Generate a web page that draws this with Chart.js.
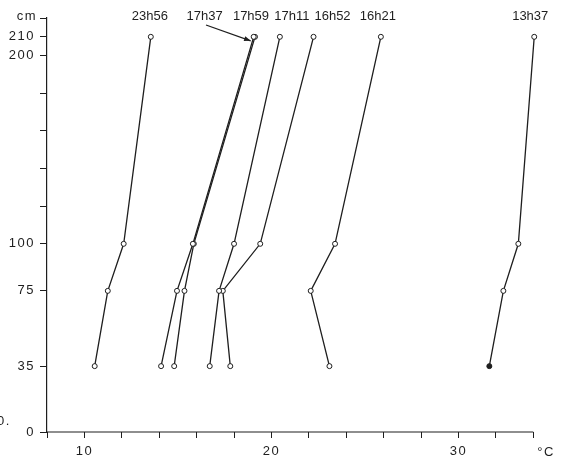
<!DOCTYPE html>
<html>
<head>
<meta charset="utf-8">
<script src="https://cdn.jsdelivr.net/npm/chart.js@4.4.1/dist/chart.umd.min.js"></script>
<style>
  body { margin: 0; background: #fff; }
  #wrap { width: 561px; height: 463px; }
</style>
</head>
<body>
<div id="wrap"><canvas id="profileChart"></canvas></div>
<script>
// measurement heights (cm), top to bottom, and the temperature profile for each time
const times = ['23h56', '17h37', '17h59', '17h11', '16h52', '16h21', '13h37'];
const heights = [210, 100, 75, 35];
const t2356 = [13.55, 12.1, 11.25, 10.55];
const t1737 = [19.05, 15.8, 14.95, 14.1];
const t1759 = [19.12, 15.85, 15.35, 14.8];
const t1711 = [20.45, 18.0, 17.2, 16.7];
const t1652 = [22.25, 19.4, 17.4, 17.8];
const t1621 = [25.85, 23.4, 22.1, 23.1];
const t1337 = [34.05, 33.2, 32.4, 31.65];

const xTicks = [8, 10, 12, 14, 16, 18, 20, 22, 24, 26, 28, 30, 32, 34];
const xLabels = [10, 20, 30];
const yTicks = [0, 35, 75, 100, 120, 140, 160, 180, 200, 210, 220];
const yLabels = [0, 35, 75, 100, 200, 210];

const profiles = [t2356, t1737, t1759, t1711, t1652, t1621, t1337];

// label offsets (px) from the top point of each profile
const labelShift = [-1, -49, -4, 12, 19, -3, -4];

const ink = '#1e1e1e';
const font = '"Liberation Sans", Arial, sans-serif';

const datasets = profiles.map((temps, i) => ({
    label: times[i],
    data: temps.map((t, j) => ({ x: t, y: heights[j] })),
    borderColor: ink,
    borderWidth: 1.3,
    pointRadius: 2.5,
    pointBorderWidth: 1,
    pointBorderColor: ink,
    pointBackgroundColor: (i === 6) ? ['#fff', '#fff', '#fff', ink] : '#fff',
    tension: 0,
    clip: false
}));

// wider lettering like the hand-stencilled original
const spacing = {
    id: 'spacing',
    beforeDraw(chart) {
        chart.ctx.letterSpacing = '1.5px';
    }
};

// x axis line stops at 34 °C
const axisLine = {
    id: 'axisLine',
    beforeDatasetsDraw(chart) {
        const ctx = chart.ctx;
        const xs = chart.scales.x;
        const y0 = chart.scales.y.getPixelForValue(0);
        ctx.save();
        ctx.strokeStyle = ink;
        ctx.lineWidth = 1.2;
        ctx.beginPath();
        ctx.moveTo(xs.getPixelForValue(xTicks[0]), y0);
        ctx.lineTo(xs.getPixelForValue(xTicks[xTicks.length - 1]), y0);
        ctx.stroke();
        ctx.restore();
    }
};

// text that sits outside the axes: time labels, the arrow, the units
const annotations = {
    id: 'annotations',
    afterDraw(chart) {
        const ctx = chart.ctx;
        const xs = chart.scales.x;
        const ys = chart.scales.y;
        ctx.save();
        ctx.fillStyle = ink;
        ctx.strokeStyle = ink;
        ctx.font = '13px ' + font;
        ctx.letterSpacing = '0px';
        ctx.textAlign = 'center';
        ctx.textBaseline = 'middle';

        profiles.forEach((temps, i) => {
            const px = xs.getPixelForValue(temps[0]) + labelShift[i];
            ctx.fillText(times[i], px, 16);
        });

        // arrow from the 17h37 label to its top point
        const tx = xs.getPixelForValue(t1737[0]) - 3;
        const ty = ys.getPixelForValue(heights[0]) + 4;
        const sx = 206, sy = 25;
        ctx.lineWidth = 1.2;
        ctx.beginPath();
        ctx.moveTo(sx, sy);
        ctx.lineTo(tx, ty);
        ctx.stroke();
        const ang = Math.atan2(ty - sy, tx - sx);
        ctx.beginPath();
        ctx.moveTo(tx, ty);
        ctx.lineTo(tx - 7 * Math.cos(ang - 0.35), ty - 7 * Math.sin(ang - 0.35));
        ctx.lineTo(tx - 7 * Math.cos(ang + 0.35), ty - 7 * Math.sin(ang + 0.35));
        ctx.closePath();
        ctx.fill();

        ctx.letterSpacing = '1.5px';
        ctx.fillText('cm', 27, 16);
        ctx.fillText('°C', 546, 452);
        ctx.textAlign = 'left';
        ctx.fillText('0.', -3, 421);
        ctx.restore();
    }
};

const ctx = document.getElementById('profileChart').getContext('2d');
new Chart(ctx, {
    type: 'line',
    data: { datasets: datasets },
    plugins: [spacing, axisLine, annotations],
    options: {
        responsive: true,
        maintainAspectRatio: false,
        animation: false,
        layout: { padding: { top: 18, right: 9, left: 0, bottom: 0 } },
        plugins: {
            legend: { display: false },
            tooltip: { enabled: false }
        },
        scales: {
            x: {
                type: 'linear',
                min: 8,
                max: 35,
                afterBuildTicks: scale => { scale.ticks = xTicks.map(v => ({ value: v })); },
                afterFit: scale => { scale.height = 31; },
                grid: {
                    drawOnChartArea: false,
                    drawTicks: true,
                    tickLength: 6,
                    color: ink,
                    lineWidth: 1
                },
                border: { display: false },
                ticks: {
                    color: ink,
                    padding: 6,
                    maxRotation: 0,
                    autoSkip: false,
                    font: { family: font, size: 13 },
                    callback: v => xLabels.includes(v) ? v : ''
                }
            },
            y: {
                type: 'linear',
                min: 0,
                max: 220,
                afterBuildTicks: scale => { scale.ticks = yTicks.map(v => ({ value: v })); },
                afterFit: scale => { scale.width = 47; },
                grid: {
                    drawOnChartArea: false,
                    drawTicks: true,
                    tickLength: 7,
                    color: ink,
                    lineWidth: 1
                },
                border: { color: ink, width: 1.2 },
                ticks: {
                    color: ink,
                    padding: 5,
                    autoSkip: false,
                    font: { family: font, size: 13 },
                    callback: v => yLabels.includes(v) ? v : ''
                }
            }
        }
    }
});
</script>
</body>
</html>
